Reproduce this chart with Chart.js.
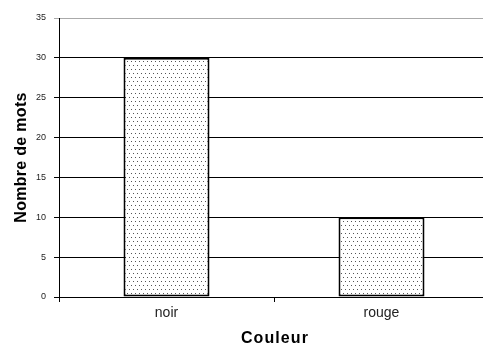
<!DOCTYPE html>
<html>
<head>
<meta charset="utf-8">
<script src="https://cdn.jsdelivr.net/npm/chart.js@4/dist/chart.umd.min.js"></script>
<style>
  html, body { margin: 0; padding: 0; background: #fff; overflow: hidden; }
  #wrap { width: 490px; height: 345px; }
</style>
</head>
<body>
<div id="wrap"><canvas id="c" width="490" height="345"></canvas></div>
<script>
const categories = ['noir', 'rouge'];
const wordCounts = [30, 10];
const yTicks = [0, 5, 10, 15, 20, 25, 30, 35];
const xTitle = 'Couleur';
const yTitle = 'Nombre de mots';

// dotted fill like the old spreadsheet pattern
function dotPattern() {
  const p = document.createElement('canvas');
  p.width = 4; p.height = 8;
  const g = p.getContext('2d');
  g.fillStyle = '#fff';
  g.fillRect(0, 0, 4, 8);
  g.fillStyle = '#555';
  g.fillRect(1, 1, 1, 1);
  g.fillRect(3, 5, 1, 1);
  return g.createPattern(p, 'repeat');
}

// axis titles drawn by hand so the letter spacing can be set
const axisTitles = {
  id: 'axisTitles',
  afterDraw(chart) {
    const c = chart.ctx;
    const a = chart.chartArea;
    c.save();
    c.fillStyle = '#000';
    c.font = 'bold 16px "Liberation Sans"';
    c.textAlign = 'center';
    c.textBaseline = 'alphabetic';
    c.letterSpacing = '1.1px';
    c.fillText(xTitle, (a.left + a.right) / 2 + 1, 343);
    c.letterSpacing = '0.3px';
    c.translate(26, (a.top + a.bottom) / 2);
    c.rotate(-Math.PI / 2);
    c.fillText(yTitle, 0, 0);
    c.restore();
  }
};

const ctx = document.getElementById('c').getContext('2d');

new Chart(ctx, {
  type: 'bar',
  data: {
    labels: categories,
    datasets: [{
      data: wordCounts,
      backgroundColor: dotPattern(),
      borderColor: '#000',
      borderWidth: 2,
      borderSkipped: false,
      barPercentage: 0.4,
      categoryPercentage: 1
    }]
  },
  options: {
    responsive: false,
    animation: false,
    layout: { padding: { top: 18, right: 1, left: 0, bottom: 0 } },
    plugins: { legend: { display: false }, tooltip: { enabled: false } },
    scales: {
      x: {
        grid: { drawOnChartArea: false, color: '#000', tickLength: 5 },
        border: { color: '#000', width: 1 },
        ticks: { color: '#222', font: { family: 'Liberation Sans', size: 14 }, padding: 3 },
        afterFit: s => { s.height = 48; }
      },
      y: {
        min: 0, max: 35,
        afterBuildTicks: s => { s.ticks = yTicks.map(v => ({ value: v })); },
        grid: {
          color: c => c.tick && c.tick.value === 35 ? '#aaa' : '#000',
          tickLength: 5
        },
        border: { color: '#000', width: 1 },
        ticks: { color: '#222', font: { family: 'Liberation Sans', size: 9 }, padding: 8 },
        afterFit: s => { s.width = 59; }
      }
    }
  },
  plugins: [axisTitles]
});
</script>
</body>
</html>
